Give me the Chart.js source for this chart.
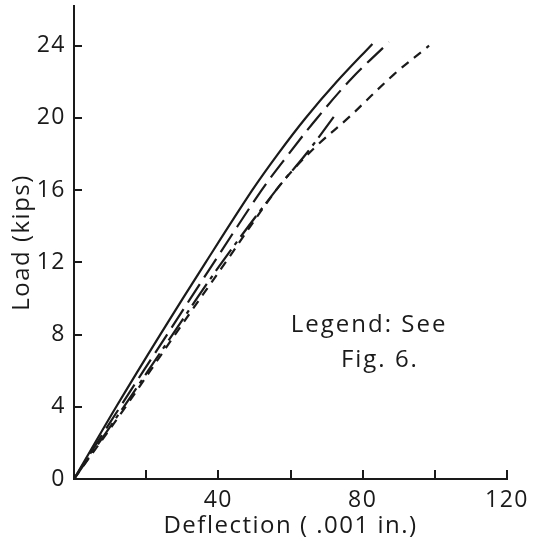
<!DOCTYPE html>
<html>
<head>
<meta charset="utf-8">
<script src="https://cdn.jsdelivr.net/npm/chart.js@4"></script>
<style>
  html, body { margin: 0; padding: 0; background: #fff; }
  #wrap { width: 541px; height: 541px; }
</style>
</head>
<body>
<div id="wrap"><canvas id="c" width="541" height="541"></canvas></div>
<script>
// load-deflection curves (deflection in .001 in, load in kips)
const solidX = [0, 11.7, 23.9, 36.5, 49.4, 56.5, 64.2, 72.8, 82.7];
const solidY = [0, 4, 8, 12, 16, 18, 20, 22, 24.1];

const longDashX = [0, 12.8, 25.8, 38.8, 52, 59.5, 67.4, 77, 87.3];
const longDashY = [0, 4, 8, 12, 16, 18, 20, 22.2, 24.2];

const dashDotX = [0, 13.8, 27.3, 41, 56, 64.3, 72.5];
const dashDotY = [0, 4, 8, 12, 16, 18, 20.2];

const shortDashX = [0, 14.3, 28, 42, 56, 62, 68, 76, 88.6, 98.4];
const shortDashY = [0, 4, 8, 12, 16, 17.4, 18.6, 20, 22.4, 24];

const xTicks = [0, 20, 40, 60, 80, 100, 120];
const xLabels = [40, 80, 120];
const yTicks = [0, 4, 8, 12, 16, 20, 24];

const note = ['Legend: See', 'Fig. 6.'];

const FONT = "'Open Sans', 'DejaVu Sans', sans-serif";
const INK = '#1a1a1a';

function pts(xs, ys) {
  return xs.map((x, i) => ({ x: x, y: ys[i] }));
}

function series(xs, ys, dash) {
  return {
    data: pts(xs, ys),
    showLine: true,
    borderColor: INK,
    borderWidth: 2.2,
    borderDash: dash,
    pointRadius: 0,
    tension: 0.35,
    fill: false
  };
}

// inward tick marks + the legend note
const extras = {
  id: 'extras',
  beforeDraw(chart) {
    chart.ctx.letterSpacing = '1.5px';
  },
  afterDraw(chart) {
    const ctx = chart.ctx;
    const xs = chart.scales.x, ys = chart.scales.y;
    const area = chart.chartArea;
    ctx.save();
    ctx.strokeStyle = INK;
    ctx.lineWidth = 2;
    xTicks.forEach(v => {
      if (v === 0) return;
      const px = Math.round(xs.getPixelForValue(v));
      ctx.beginPath();
      ctx.moveTo(px, area.bottom);
      ctx.lineTo(px, area.bottom - 9);
      ctx.stroke();
    });
    yTicks.forEach(v => {
      if (v === 0) return;
      const py = Math.round(ys.getPixelForValue(v));
      ctx.beginPath();
      ctx.moveTo(area.left, py);
      ctx.lineTo(area.left + 8, py);
      ctx.stroke();
    });
    ctx.fillStyle = INK;
    ctx.font = '24px ' + FONT;
    ctx.letterSpacing = '2px';
    ctx.textAlign = 'center';
    ctx.textBaseline = 'middle';
    ctx.fillText(note[0], xs.getPixelForValue(81.5) + 1, ys.getPixelForValue(8.5));
    ctx.fillText(note[1], xs.getPixelForValue(84.5) + 1, ys.getPixelForValue(6.6));
    ctx.restore();
  }
};

new Chart(document.getElementById('c'), {
  type: 'scatter',
  data: {
    datasets: [
      series(solidX, solidY, []),
      series(longDashX, longDashY, [22, 8]),
      series(dashDotX, dashDotY, [26, 6, 4, 6]),
      series(shortDashX, shortDashY, [9, 7])
    ]
  },
  options: {
    responsive: false,
    animation: false,
    layout: { padding: { top: 6, right: 34, left: 0, bottom: 0 } },
    plugins: { legend: { display: false }, tooltip: { enabled: false } },
    scales: {
      x: {
        type: 'linear',
        min: 0,
        max: 120,
        afterFit: s => { s.height = 62; s.paddingLeft = 0; s.paddingRight = 0; },
        border: { display: true, color: INK, width: 2 },
        grid: { display: false, drawTicks: false },
        ticks: {
          stepSize: 20,
          padding: 8,
          color: INK,
          font: { family: FONT, size: 23 },
          callback: v => xLabels.includes(v) ? String(v) : ''
        },
        title: {
          display: true,
          text: 'Deflection ( .001 in.)',
          color: INK,
          font: { family: FONT, size: 24 },
          padding: { top: 0, bottom: 0 }
        }
      },
      y: {
        type: 'linear',
        min: 0,
        max: 26.2,
        afterFit: s => { s.width = 74; s.paddingTop = 0; s.paddingBottom = 0; },
        border: { display: true, color: INK, width: 2 },
        grid: { display: false, drawTicks: false },
        ticks: {
          stepSize: 4,
          includeBounds: false,
          padding: 8,
          color: INK,
          font: { family: FONT, size: 23 },
          callback: v => yTicks.includes(v) ? String(v) : ''
        },
        title: {
          display: true,
          text: 'Load (kips)',
          color: INK,
          font: { family: FONT, size: 24 },
          padding: { top: 8, bottom: 0 }
        }
      }
    }
  },
  plugins: [extras]
});
</script>
</body>
</html>
